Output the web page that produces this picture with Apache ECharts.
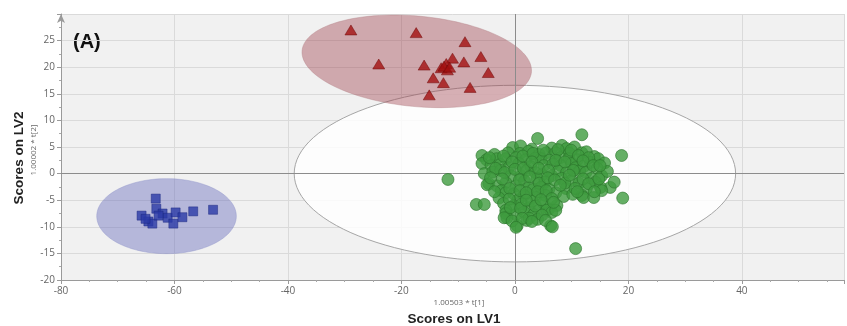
<!DOCTYPE html>
<html>
<head>
<meta charset="utf-8">
<script src="https://cdn.jsdelivr.net/npm/echarts@6/dist/echarts.min.js"></script>
<style>
  html, body { margin: 0; padding: 0; background: #ffffff; }
  #chart { width: 847px; height: 326px; }
</style>
</head>
<body>
<div id="chart"></div>
<script>
// PLS-DA score plot: LV1 vs LV2 scores for three sample groups.

// Axis ranges and tick spacing
const xRange = [-80, 58];
const yRange = [-20, 30];
const xStep = 20;
const yStep = 5;

// Group 1 (triangles): [LV1, LV2]
const groupTriangles = [
  [-28.9, 27.0], [-17.4, 26.5], [-8.8, 24.8], [-24.0, 20.6], [-6.0, 22.0],
  [-11.0, 21.7], [-9.0, 21.0], [-16.0, 20.4], [-12.1, 20.7], [-13.0, 19.9],
  [-11.9, 19.5], [-12.5, 20.2], [-11.5, 20.0], [-4.7, 19.0], [-14.4, 18.0],
  [-12.6, 17.1], [-7.9, 16.2], [-15.1, 14.8]
];

// Group 2 (squares)
const groupSquares = [
  [-63.3, -4.7], [-63.2, -6.6], [-65.8, -7.9], [-64.6, -9.0], [-63.9, -9.4],
  [-62.1, -7.5], [-61.2, -8.3], [-59.8, -7.3], [-60.2, -9.4], [-58.6, -8.2],
  [-56.7, -7.1], [-53.2, -6.8], [-65.1, -8.5], [-62.8, -7.9]
];

// Group 3 (circles)
const groupCircles = [
  [-0.4, 4.9], [1.0, 5.2], [3.0, 4.6], [6.5, 4.8], [8.3, 5.3], [9.1, 4.7], [10.5, 5.0], [11.8, 3.9],
  [-5.8, 3.4], [-3.6, 3.6], [-1.2, 3.9], [0.9, 3.8], [2.4, 4.2], [4.3, 3.6], [5.5, 3.9], [7.2, 3.9],
  [9.6, 3.8], [12.6, 4.1], [14.0, 3.2],
  [-5.0, 2.6], [-3.2, 2.8], [-1.6, 2.8], [0.2, 3.0], [1.9, 2.6], [3.6, 2.9], [4.6, 2.8], [6.1, 2.5],
  [8.0, 3.0], [9.5, 2.8], [11.0, 2.6], [13.3, 2.1], [14.7, 2.8], [15.8, 2.0],
  [-5.8, 1.9], [-4.2, 1.5], [-2.6, 1.7], [-1.1, 1.1], [0.7, 1.9], [2.8, 1.3], [5.1, 1.5], [6.7, 1.8],
  [8.1, 1.5], [10.0, 1.9], [10.7, 1.1], [12.2, 1.4], [14.5, 1.0],
  [-5.4, 0.0], [-3.9, 0.3], [-2.5, 0.6], [-0.7, -0.4], [1.1, -0.4], [2.1, 0.6], [3.6, 0.2], [4.8, -0.2],
  [6.5, -0.4], [7.6, 0.5], [9.1, 0.2], [11.4, 0.5], [12.5, 0.2], [13.5, -0.9], [15.3, -0.4], [16.3, 0.4],
  [-4.6, -1.9], [-3.2, -2.3], [-1.6, -1.7], [0.2, -2.3], [1.7, -1.4], [3.9, -0.9], [5.3, -1.6], [8.2, -0.9],
  [10.0, -1.3], [11.3, -1.8], [14.2, -1.6], [16.8, -2.6],
  [-4.9, -2.1], [-2.4, -3.2], [-1.6, -3.6], [-0.2, -3.8], [2.5, -2.6], [3.2, -3.0], [4.6, -2.6], [6.0, -2.9],
  [7.2, -3.6], [9.0, -2.8], [12.6, -2.8], [15.1, -2.6], [15.3, -3.2], [17.5, -1.6],
  [-2.8, -4.6], [1.6, -4.1], [3.7, -4.5], [5.4, -4.1], [8.6, -4.3], [10.2, -3.9], [11.8, -4.1], [12.1, -4.5],
  [13.9, -4.5], [0.5, -5.0],
  [-2.0, -5.6], [-0.2, -6.0], [1.2, -5.7], [2.5, -6.4], [4.2, -6.9], [6.0, -6.6], [7.4, -6.0], [3.0, -5.2], [5.0, -5.5],
  [-1.6, -6.9], [-1.6, -7.5], [0.2, -7.7], [1.6, -7.2], [3.3, -7.7], [5.6, -6.9], [6.5, -7.3], [7.2, -6.9],
  [-1.4, -8.3], [-1.9, -8.3], [2.1, -8.8], [2.5, -8.4], [0.4, -9.8], [4.0, -8.6], [6.3, -9.8],
  [-4.5, 3.0], [-2.0, 3.3], [-0.5, 2.2], [1.4, 3.3], [3.2, 3.8], [5.0, 4.4], [7.6, 4.5], [9.9, 4.4],
  [11.2, 3.4], [13.0, 3.0], [-3.4, 1.0], [-1.8, 0.2], [0.0, 0.8], [1.5, 1.0], [3.0, 2.2], [4.2, 1.0],
  [5.9, 0.6], [7.2, 2.5], [8.8, 2.2], [10.3, 0.6], [12.0, 2.4], [13.8, 1.5], [15.0, 1.5],
  [-4.3, -0.8], [-2.2, -1.0], [-0.9, -2.8], [0.8, -1.2], [2.6, -0.6], [4.3, -1.8], [5.8, -0.8], [7.0, -1.2],
  [8.8, -1.8], [9.6, -0.3], [12.0, -1.0], [13.0, -1.9], [14.8, -1.0],
  [-3.6, -3.4], [-1.0, -4.8], [0.9, -3.2], [2.0, -3.6], [4.0, -3.4], [5.5, -3.2], [6.5, -4.7], [8.0, -2.2],
  [10.6, -2.8], [11.0, -3.4], [14.0, -3.4],
  [-0.8, -6.4], [1.0, -6.5], [2.0, -5.0], [3.6, -6.1], [4.6, -4.9], [6.8, -5.4], [-0.5, -8.9], [1.3, -8.4],
  [3.0, -9.0], [4.8, -7.8], [5.4, -8.8],
  [4.0, 6.6], [11.8, 7.3], [18.8, 3.4], [-11.8, -1.1], [-6.8, -5.8], [-5.4, -5.8], [19.0, -4.6],
  [10.7, -14.1], [6.6, -10.0], [0.2, -10.1]
];

// Confidence ellipses: [centre LV1, centre LV2, semi-axis LV1, semi-axis LV2, screen tilt (rad)]
const ellipseOverall   = [[0.0, 0.0, 38.9, 16.6, 0]];
const ellipseTriangles = [[-17.3, 21.1, 20.3, 8.5, 0.094]];
const ellipseSquares   = [[-61.4, -8.0, 12.3, 7.05, 0]];

function ellipseRenderer(style) {
  return function (params, api) {
    const c = api.coord([api.value(0), api.value(1)]);
    const s = api.size([api.value(2), api.value(3)]);
    const th = api.value(4);
    const pts = [];
    const n = 120;
    for (let i = 0; i < n; i++) {
      const t = (i / n) * Math.PI * 2;
      const ex = s[0] * Math.cos(t), ey = s[1] * Math.sin(t);
      pts.push([c[0] + ex * Math.cos(th) - ey * Math.sin(th),
                c[1] + ex * Math.sin(th) + ey * Math.cos(th)]);
    }
    return { type: 'polygon', shape: { points: pts }, style: style };
  };
}

const tickLabelStyle = { color: '#666', fontSize: 10, fontFamily: 'Open Sans, Liberation Sans, sans-serif' };

const chart = echarts.init(document.getElementById('chart'), null, { renderer: 'canvas' });

chart.setOption({
  animation: false,
  backgroundColor: '#ffffff',
  grid: {
    left: 61, right: 0, top: 14, bottom: 46,
    show: true, backgroundColor: '#f1f1f1', borderWidth: 0
  },
  xAxis: {
    type: 'value', min: xRange[0], max: xRange[1], interval: xStep,
    axisLine: { show: true, onZero: false, lineStyle: { color: '#9a9a9a', width: 1 } },
    axisTick: { show: true, length: 4, lineStyle: { color: '#9a9a9a' } },
    minorTick: { show: true, splitNumber: 4, length: 2, lineStyle: { color: '#a8a8a8' } },
    axisLabel: Object.assign({ margin: 6, formatter: v => (v % xStep === 0 ? String(v) : '') }, tickLabelStyle),
    splitLine: { show: true, lineStyle: { color: '#dadada', width: 1 } }
  },
  yAxis: {
    type: 'value', min: yRange[0], max: yRange[1], interval: yStep,
    axisLine: { show: true, onZero: false, symbol: ['none', 'arrow'], symbolSize: [6, 9],
                lineStyle: { color: '#9a9a9a', width: 1 } },
    axisTick: { show: true, length: 4, lineStyle: { color: '#9a9a9a' } },
    minorTick: { show: true, splitNumber: 2, length: 2, lineStyle: { color: '#a8a8a8' } },
    axisLabel: Object.assign({ margin: 6, formatter: v => (v < yRange[1] ? String(v) : '') }, tickLabelStyle),
    splitLine: { show: true, lineStyle: { color: '#dadada', width: 1 } }
  },
  series: [
    {
      type: 'custom', name: 'overall', z: 1, silent: true,
      renderItem: ellipseRenderer({ fill: 'rgba(255,255,255,0.82)', stroke: '#a6a6a6', lineWidth: 1 }),
      data: ellipseOverall,
      markLine: {
        silent: true, symbol: ['none', 'none'], label: { show: false },
        lineStyle: { color: '#8c8c8c', width: 1, type: 'solid' },
        data: [{ xAxis: 0 }, { yAxis: 0 }]
      }
    },
    {
      type: 'custom', name: 'squaresRegion', z: 2, silent: true,
      renderItem: ellipseRenderer({ fill: 'rgba(92,98,186,0.40)', stroke: 'rgba(140,144,200,0.4)', lineWidth: 1 }),
      data: ellipseSquares
    },
    {
      type: 'custom', name: 'trianglesRegion', z: 2, silent: true,
      renderItem: ellipseRenderer({ fill: 'rgba(160,66,78,0.42)', stroke: 'rgba(180,130,136,0.4)', lineWidth: 1 }),
      data: ellipseTriangles
    },
    {
      type: 'scatter', name: 'circles', z: 5, symbol: 'circle', symbolSize: 12,
      itemStyle: { color: '#3e9b3e', borderColor: '#2a742a', borderWidth: 0.8 },
      data: groupCircles
    },
    {
      type: 'scatter', name: 'triangles', z: 5, symbol: 'triangle', symbolSize: [12, 10],
      itemStyle: { color: '#a31010', borderColor: '#6e0808', borderWidth: 0.6 },
      data: groupTriangles
    },
    {
      type: 'scatter', name: 'squares', z: 5, symbol: 'rect', symbolSize: 9,
      itemStyle: { color: '#2b3aa6', borderColor: '#1c2780', borderWidth: 0.6 },
      data: groupSquares
    }
  ],
  graphic: [
    { type: 'text', left: 73, top: 32,
      style: { text: '(A)', font: 'bold 20px "Liberation Sans", Arial, sans-serif', fill: '#111' } },
    { type: 'text', x: 19, y: 158, rotation: Math.PI / 2,
      style: { text: 'Scores on LV2', font: 'bold 13.5px "Liberation Sans", Arial, sans-serif', fill: '#222',
               align: 'center', verticalAlign: 'middle' } },
    { type: 'text', x: 34, y: 150, rotation: Math.PI / 2,
      style: { text: '1.00002 * t[2]', font: '8px "Open Sans", sans-serif', fill: '#666',
               align: 'center', verticalAlign: 'middle' } },
    { type: 'text', x: 459, y: 303,
      style: { text: '1.00503 * t[1]', font: '8px "Open Sans", sans-serif', fill: '#666',
               align: 'center', verticalAlign: 'middle' } },
    { type: 'text', x: 454, y: 319,
      style: { text: 'Scores on LV1', font: 'bold 13.5px "Liberation Sans", Arial, sans-serif', fill: '#222',
               align: 'center', verticalAlign: 'middle' } }
  ]
});
</script>
</body>
</html>
